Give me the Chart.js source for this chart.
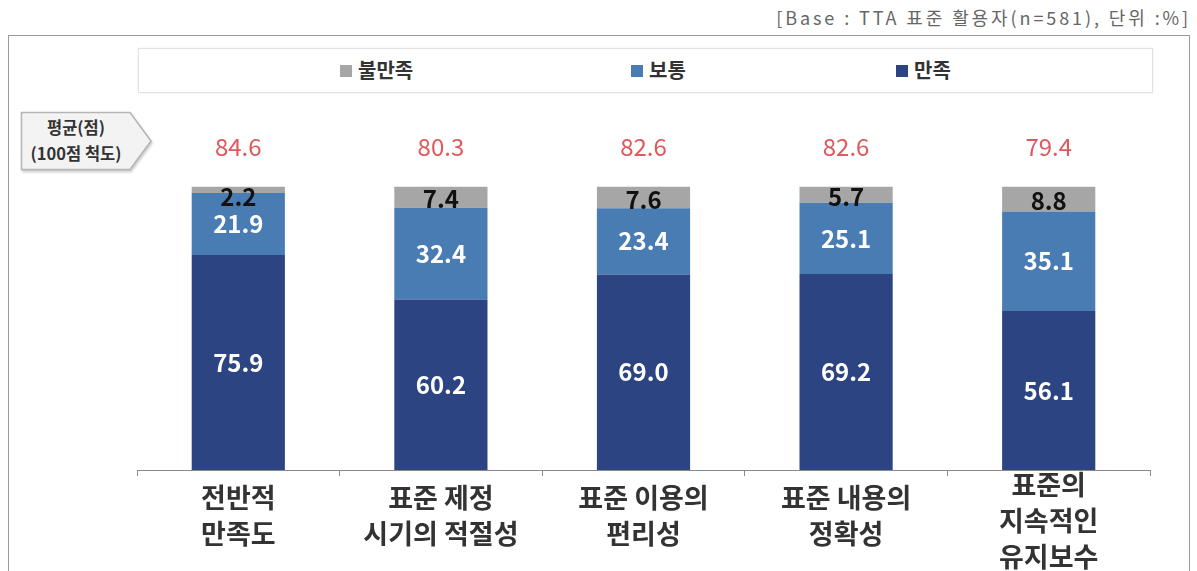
<!DOCTYPE html>
<html>
<head>
    <meta charset="utf-8">
    <script src="https://cdn.jsdelivr.net/npm/chart.js@4/dist/chart.umd.min.js"></script>
</head>
<body>
    <div id="wrap">
        <div id="note">[Base : TTA 표준 활용자(n=581), 단위 :%]</div>
        <div id="frame"></div>
        <div id="legendBox">
            <span class="item" style="left:201px"><i style="background:#a6a6a6"></i>불만족</span>
            <span class="item" style="left:492px"><i style="background:#4a7cb4"></i>보통</span>
            <span class="item" style="left:757px"><i style="background:#2c4482"></i>만족</span>
        </div>
        <svg id="tag" width="140" height="66">
            <polygon points="1.5,1.5 110,1.5 131,30 110,58.5 1.5,58.5" fill="#f3f3f3" stroke="#b5b5b5" stroke-width="1.5"/>
        </svg>
        <div id="tagText">평균(점)<br>(100점 척도)</div>
        <canvas id="chart" width="1197" height="571"></canvas>
    </div>
</body>
</html>

<script>
    // DATA
    const categories = [
        ['전반적', '만족도'],
        ['표준 제정', '시기의 적절성'],
        ['표준 이용의', '편리성'],
        ['표준 내용의', '정확성'],
        ['표준의', '지속적인', '유지보수']
    ];
    const satisfied = [75.9, 60.2, 69.0, 69.2, 56.1];
    const neutral = [21.9, 32.4, 23.4, 25.1, 35.1];
    const dissatisfied = [2.2, 7.4, 7.6, 5.7, 8.8];
    const averages = [84.6, 80.3, 82.6, 82.6, 79.4];

    const FONT = "'Noto Sans CJK KR', 'Noto Sans', sans-serif";

    // draws the segment values, red averages and category labels
    const labelPlugin = {
        id: 'labelPlugin',
        afterDatasetsDraw(chart) {
            const ctx = chart.ctx;
            const xs = chart.scales.x;
            const ys = chart.scales.y;
            ctx.save();
            ctx.textAlign = 'center';
            ctx.textBaseline = 'middle';
            ctx.font = 'bold 24px ' + FONT;
            chart.data.datasets.forEach((ds, di) => {
                const meta = chart.getDatasetMeta(di);
                meta.data.forEach((bar, i) => {
                    const top = Math.min(bar.y, bar.base);
                    const bottom = Math.max(bar.y, bar.base);
                    let y = (top + bottom) / 2;
                    if (di === 2) {
                        y = Math.max(y + 2, top + 10);
                        ctx.fillStyle = '#111';
                    } else {
                        ctx.fillStyle = '#ffffff';
                    }
                    ctx.fillText(ds.data[i].toFixed(1), bar.x, y);
                });
            });

            // averages
            ctx.font = '24px ' + FONT;
            ctx.fillStyle = '#e0585c';
            const avgY = ys.getPixelForValue(100) - 40;
            averages.forEach((v, i) => {
                ctx.fillText(v.toFixed(1), xs.getPixelForTick(i), avgY);
            });

            // category labels
            ctx.font = 'bold 27px ' + FONT;
            ctx.fillStyle = '#333';
            const lh = 36;
            categories.forEach((lines, i) => {
                const x = xs.getPixelForTick(i);
                const start = lines.length > 2 ? 485 : 498;
                lines.forEach((line, k) => {
                    ctx.fillText(line, x, start + k * lh);
                });
            });
            ctx.restore();
        }
    };

    const ctx = document.getElementById('chart');
    const chart = new Chart(ctx, {
        type: 'bar',
        data: {
            labels: categories,
            datasets: [
                { label: '만족', data: satisfied, backgroundColor: '#2c4482' },
                { label: '보통', data: neutral, backgroundColor: '#4a7cb4' },
                { label: '불만족', data: dissatisfied, backgroundColor: '#a6a6a6' }
            ]
        },
        options: {
            responsive: false,
            animation: false,
            layout: { padding: { left: 137, right: 47, top: 130, bottom: 95 } },
            plugins: {
                legend: { display: false },
                tooltip: { enabled: false }
            },
            datasets: {
                bar: { barPercentage: 0.92, categoryPercentage: 0.5 }
            },
            scales: {
                x: {
                    stacked: true,
                    ticks: { display: false },
                    grid: {
                        offset: true,
                        drawOnChartArea: false,
                        drawTicks: true,
                        tickLength: 6,
                        color: '#8a8a8a'
                    },
                    border: { display: true, color: '#8a8a8a', width: 1 }
                },
                y: {
                    stacked: true,
                    display: false,
                    min: 0,
                    max: 120
                }
            }
        },
        plugins: [labelPlugin]
    });
</script>

<style>
body {
    margin: 0;
    background: #fff;
    font-family: 'Noto Sans CJK KR', 'Noto Sans', sans-serif;
}
#wrap {
    position: relative;
    width: 1197px;
    height: 571px;
    overflow: hidden;
}
#chart {
    position: absolute;
    left: 0;
    top: 0;
}
#note {
    position: absolute;
    right: 6px;
    top: 4px;
    font-size: 18px;
    letter-spacing: 2.9px;
    color: #666;
    white-space: nowrap;
}
#frame {
    position: absolute;
    left: 8px;
    top: 35px;
    width: 1180px;
    height: 560px;
    border: 1.5px solid #9a9a9a;
}
#legendBox {
    position: absolute;
    left: 138px;
    top: 48px;
    width: 1013px;
    height: 43px;
    border: 1.5px solid #e2e2e2;
    box-shadow: 0 0 3px #eee;
}
.item {
    position: absolute;
    top: 7px;
    font-size: 20px;
    font-weight: bold;
    color: #333;
    white-space: nowrap;
    line-height: 28px;
}
.item i {
    display: inline-block;
    width: 12px;
    height: 12px;
    margin-right: 6px;
    vertical-align: 1px;
}
#tag {
    position: absolute;
    left: 20px;
    top: 111px;
    filter: drop-shadow(1px 2px 1px #ccc);
}
#tagText {
    position: absolute;
    left: 19px;
    top: 114px;
    width: 114px;
    text-align: center;
    font-size: 16.5px;
    font-weight: bold;
    line-height: 26px;
    color: #333;
}
</style>
